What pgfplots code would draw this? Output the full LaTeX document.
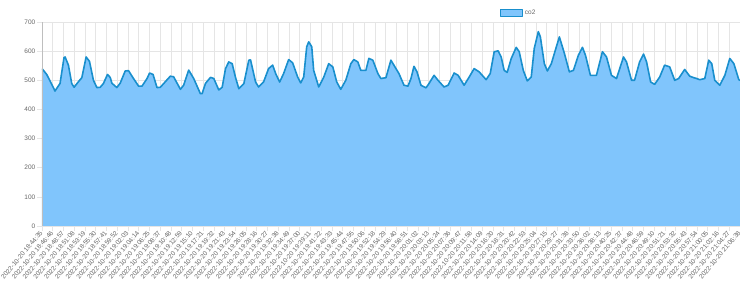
\documentclass[border=0pt]{standalone}
\usepackage{pgfplots}
\pgfplotsset{compat=1.18}
\usepackage{pgfplotstable}
\usepackage{fontspec}
\setmainfont{Liberation Sans}
\definecolor{areafill}{RGB}{128,197,252}
\definecolor{linecol}{RGB}{25,143,205}
\definecolor{gridc}{RGB}{229,229,229}
\definecolor{axisc}{RGB}{190,190,190}
\definecolor{textc}{RGB}{102,102,102}
\pgfplotstableread{
x y
0 540
0.44 520
1.06 475
1.21 463
1.68 489
2.05 578
2.15 580
2.46 552
2.77 489
2.99 476
3.39 495
3.71 509
4.11 580
4.42 565
4.79 500
5.11 475
5.42 476
5.72 489
6.10 520
6.35 510
6.51 490
6.97 475
7.28 490
7.75 532
8.06 533
8.52 506
8.99 480
9.31 480
9.78 506
10.02 525
10.34 520
10.71 475
11.02 476
11.48 495
11.95 514
12.26 512
12.58 490
12.89 469
13.19 483
13.66 535
14.13 506
14.44 480
14.75 454
14.91 454
15.22 489
15.69 510
16.00 506
16.46 467
16.78 476
17.09 540
17.39 563
17.71 557
18.02 510
18.33 471
18.80 489
19.26 569
19.42 570
19.89 494
20.17 477
20.63 494
21.10 540
21.48 552
21.76 523
22.13 494
22.50 523
22.97 571
23.34 560
23.81 511
24.09 491
24.37 511
24.65 615
24.84 632
25.12 615
25.30 534
25.77 477
26.24 511
26.70 557
27.08 546
27.45 494
27.82 469
28.29 500
28.76 557
29.04 571
29.41 563
29.69 534
30.16 534
30.44 575
30.81 569
31.28 523
31.56 506
32.03 509
32.49 569
32.77 552
33.24 523
33.71 483
34.08 480
34.36 506
34.64 548
34.92 529
35.29 483
35.76 474
36.04 489
36.51 517
36.88 500
37.44 477
37.82 483
38.38 525
38.75 517
39.31 483
39.78 511
40.24 540
40.71 529
41.36 502
41.74 523
42.11 598
42.48 601
42.76 580
43.04 534
43.32 527
43.70 575
44.16 613
44.44 598
44.82 534
45.19 498
45.56 511
45.84 609
46.22 667
46.41 649
46.78 557
47.06 532
47.43 557
47.90 615
48.18 649
48.65 592
49.11 529
49.49 534
49.95 586
50.33 613
50.61 586
51.07 517
51.63 517
52.19 598
52.57 580
53.03 517
53.50 506
54.15 580
54.43 563
54.90 500
55.18 500
55.65 563
56.02 590
56.30 563
56.68 494
57.05 486
57.52 511
57.98 552
58.45 546
58.92 500
59.29 506
59.85 537
60.32 514
60.69 509
60.97 506
61.25 502
61.72 506
62.09 569
62.37 557
62.65 500
63.12 483
63.59 517
64.05 575
64.43 557
64.89 502
65.00 500
}\codata
\begin{document}
\begin{tikzpicture}
\begin{axis}[
  at={(42pt,63pt)}, anchor=south west,
  scale only axis, width=698pt, height=204pt,
  xmin=0, xmax=65, ymin=0, ymax=700,
  xtick={0,...,65},
  xticklabels={
2022-10-20 18:44:35,2022-10-20 18:46:46,2022-10-20 18:48:57,2022-10-20 18:51:08,2022-10-20 18:53:19,2022-10-20 18:55:30,2022-10-20 18:57:41,2022-10-20 18:59:52,2022-10-20 19:02:03,2022-10-20 19:04:14,2022-10-20 19:06:25,2022-10-20 19:08:37,2022-10-20 19:10:48,2022-10-20 19:12:59,2022-10-20 19:15:10,2022-10-20 19:17:21,2022-10-20 19:19:32,2022-10-20 19:21:43,2022-10-20 19:23:54,2022-10-20 19:26:05,2022-10-20 19:28:16,2022-10-20 19:30:27,2022-10-20 19:32:38,2022-10-20 19:34:49,2022-10-20 19:37:00,2022-10-20 19:39:11,2022-10-20 19:41:22,2022-10-20 19:43:33,2022-10-20 19:45:44,2022-10-20 19:47:55,2022-10-20 19:50:06,2022-10-20 19:52:18,2022-10-20 19:54:29,2022-10-20 19:56:40,2022-10-20 19:58:51,2022-10-20 20:01:02,2022-10-20 20:03:13,2022-10-20 20:05:24,2022-10-20 20:07:36,2022-10-20 20:09:47,2022-10-20 20:11:58,2022-10-20 20:14:09,2022-10-20 20:16:20,2022-10-20 20:18:31,2022-10-20 20:20:42,2022-10-20 20:22:53,2022-10-20 20:25:04,2022-10-20 20:27:15,2022-10-20 20:29:27,2022-10-20 20:31:38,2022-10-20 20:33:50,2022-10-20 20:36:02,2022-10-20 20:38:13,2022-10-20 20:40:25,2022-10-20 20:42:37,2022-10-20 20:44:48,2022-10-20 20:46:59,2022-10-20 20:49:10,2022-10-20 20:51:21,2022-10-20 20:53:32,2022-10-20 20:55:43,2022-10-20 20:57:54,2022-10-20 21:00:05,2022-10-20 21:02:16,2022-10-20 21:04:27,2022-10-20 21:06:38},
  ytick={0,100,...,700},
  /pgf/number format/assume math mode=true,
  tick label style={font=\fontsize{6.5}{7}\selectfont, text=textc},
  xticklabel style={rotate=50, anchor=east, inner sep=1pt},
  yticklabel style={inner sep=1.5pt},
  grid=major,
  major grid style={gridc, line width=0.6pt},
  tick align=outside,
  major tick length=5pt,
  tick style={gridc, line width=0.6pt},
  axis line style={draw=none},
  axis x line*=bottom, axis y line*=left,
  legend style={at={(0.683,1.044)}, anchor=center, draw=none, fill=none,
    font=\fontsize{6.5}{7}\selectfont, text=textc, inner sep=0pt},
  legend image code/.code={\draw[fill=areafill, draw=linecol, line width=0.8pt] (0pt,-3.3pt) rectangle (22pt,3.3pt);},
]
\addplot[fill=areafill, draw=none, forget plot] table[x=x,y=y] {\codata} \closedcycle;
\addplot[draw=linecol, line width=1.6pt, line join=round] table[x=x,y=y] {\codata};
\addlegendentry{co2}
\draw[axisc, line width=0.7pt] (axis cs:0,0) -- (axis cs:0,700);
\draw[axisc, line width=0.7pt] (axis cs:0,0) -- (axis cs:65,0);
\end{axis}
\pgfresetboundingbox
\useasboundingbox (0,0) rectangle (740pt,289pt);
\end{tikzpicture}
\end{document}
